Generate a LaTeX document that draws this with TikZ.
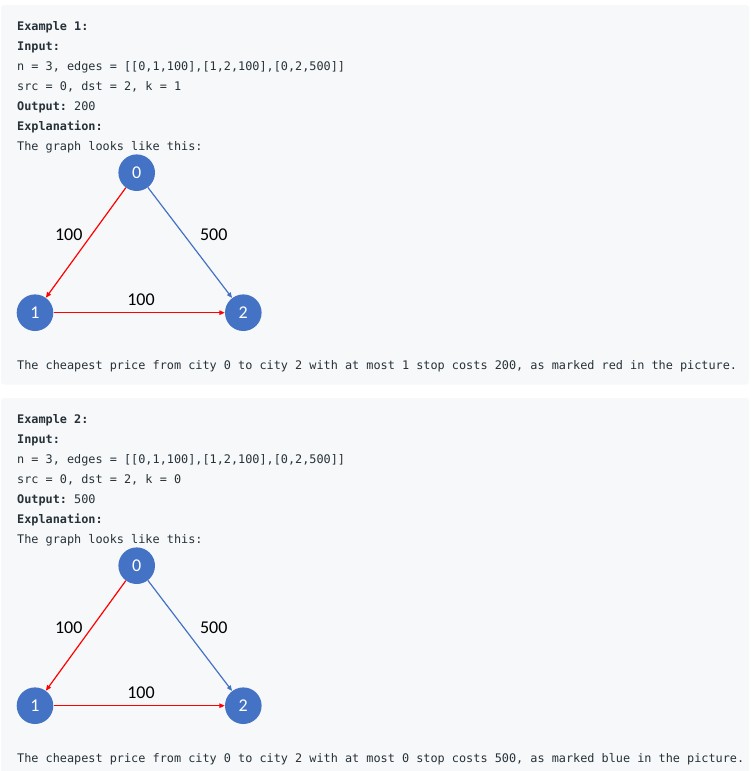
\documentclass[tikz,border=0pt]{standalone}
\usepackage{fontspec}
\setmainfont{Carlito}
\setmonofont{DejaVu Sans Mono}
\usetikzlibrary{arrows.meta}
\definecolor{panelbg}{HTML}{F7F8FA}
\definecolor{txt}{HTML}{263238}
\definecolor{nodeblue}{HTML}{4472C4}
\definecolor{edgered}{HTML}{FF0000}
\tikzset{
  panel/.style={fill=panelbg, draw=none, rounded corners=3pt},
  code/.style={anchor=base west, inner sep=0pt, text=txt, font=\ttfamily\fontsize{11.84}{14}\selectfont},
  vert/.style={circle, fill=nodeblue, draw=none, minimum size=36.6pt, inner sep=0pt, text=white, font=\fontsize{18}{20}\selectfont},
  wlabel/.style={inner sep=0pt, text=black, font=\fontsize{18}{20}\selectfont},
  redge/.style={draw=edgered, line width=1.2pt, -{Triangle[length=5.5pt,width=4.5pt]}},
  bedge/.style={draw=nodeblue, line width=1.2pt, -{Triangle[length=5.5pt,width=4.5pt]}},
}
\begin{document}
\begin{tikzpicture}[x=1pt,y=-1pt]
\useasboundingbox (0,0) rectangle (750,771);
\fill[white] (0,0) rectangle (750,771);
% ---------- Panel 1 ----------
\fill[panel] (1,5) rectangle (749,384.5);
\node[code] (p1l1) at (17,30) {\textbf{Example 1:}};
\node[code] (p1l2) at (17,50) {\textbf{Input:}};
\node[code] (p1l3) at (17,70) {n = 3, edges = [[0,1,100],[1,2,100],[0,2,500]]};
\node[code] (p1l4) at (17,90) {src = 0, dst = 2, k = 1};
\node[code] (p1l5) at (17,110) {\textbf{Output:} 200};
\node[code] (p1l6) at (17,130) {\textbf{Explanation:}};
\node[code] (p1l7) at (17,150) {The graph looks like this:};
\node[vert] (a0) at (136.7,172.7) {0};
\node[vert] (a1) at (35,312.7) {1};
\node[vert] (a2) at (243.3,312.7) {2};
\draw[redge] (a0) -- (a1);
\draw[bedge] (a0) -- (a2);
\draw[redge] (a1) -- (a2);
\node[wlabel] (a01) at (68.7,235) {100};
\node[wlabel] (a02) at (213.7,235) {500};
\node[wlabel] (a12) at (141,300) {100};
\node[code] (p1l8) at (17,369) {The cheapest price from city 0 to city 2 with at most 1 stop costs 200, as marked red in the picture.};
% ---------- Panel 2 ----------
\fill[panel] (1,398) rectangle (749,777.5);
\node[code] (p2l1) at (17,423) {\textbf{Example 2:}};
\node[code] (p2l2) at (17,443) {\textbf{Input:}};
\node[code] (p2l3) at (17,463) {n = 3, edges = [[0,1,100],[1,2,100],[0,2,500]]};
\node[code] (p2l4) at (17,483) {src = 0, dst = 2, k = 0};
\node[code] (p2l5) at (17,503) {\textbf{Output:} 500};
\node[code] (p2l6) at (17,523) {\textbf{Explanation:}};
\node[code] (p2l7) at (17,543) {The graph looks like this:};
\node[vert] (b0) at (136.7,565.7) {0};
\node[vert] (b1) at (35,705.7) {1};
\node[vert] (b2) at (243.3,705.7) {2};
\draw[redge] (b0) -- (b1);
\draw[bedge] (b0) -- (b2);
\draw[redge] (b1) -- (b2);
\node[wlabel] (b01) at (68.7,628) {100};
\node[wlabel] (b02) at (213.7,628) {500};
\node[wlabel] (b12) at (141,693) {100};
\node[code] (p2l8) at (17,762) {The cheapest price from city 0 to city 2 with at most 0 stop costs 500, as marked blue in the picture.};
\end{tikzpicture}
\end{document}
